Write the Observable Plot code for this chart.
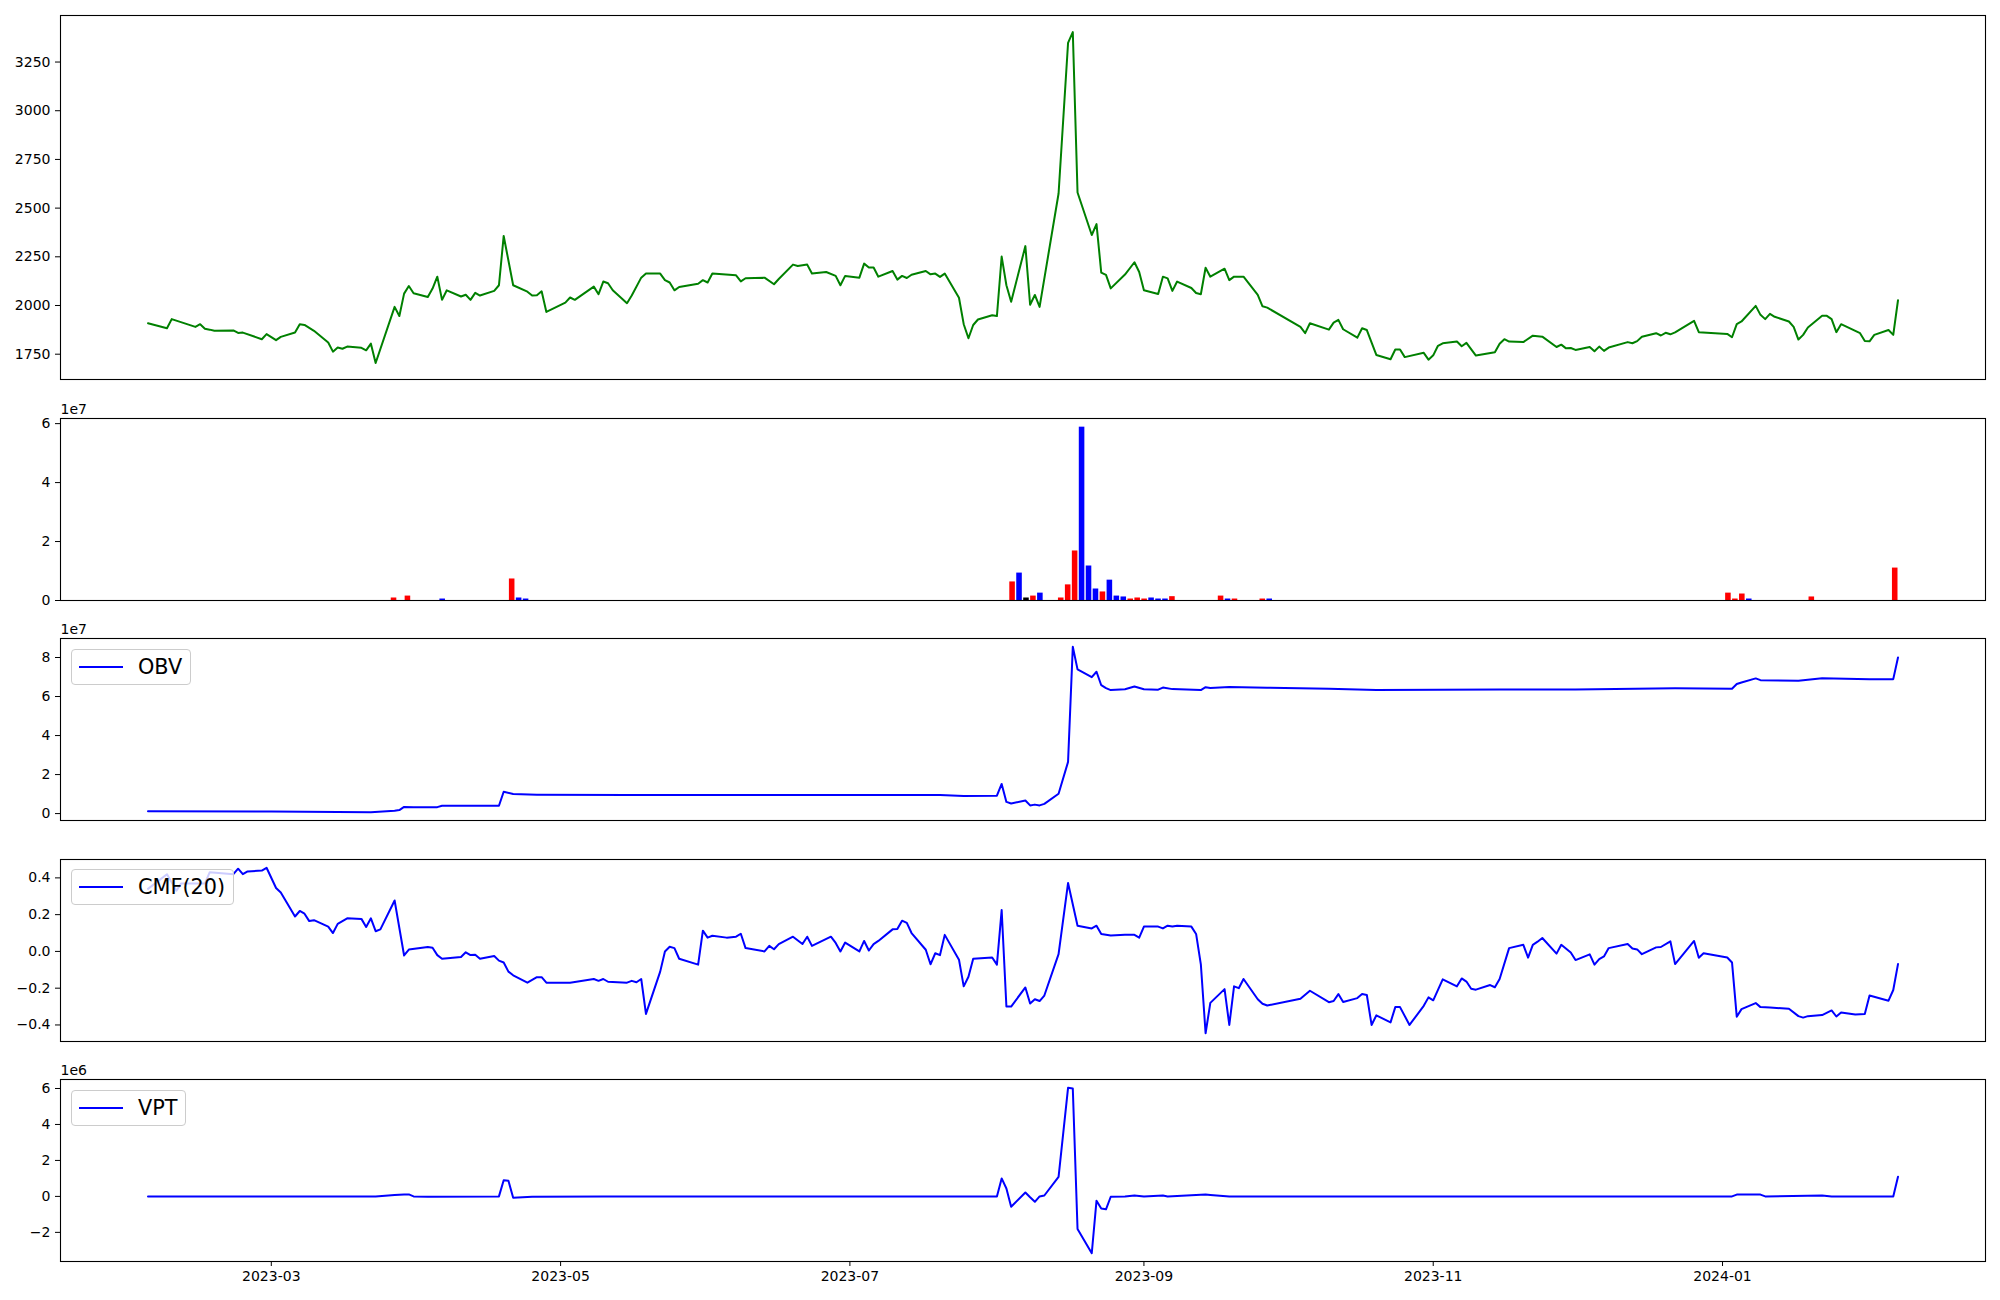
<!DOCTYPE html>
<html>
<head>
<meta charset="utf-8">
<script src="https://cdn.jsdelivr.net/npm/d3@7"></script>
<script src="https://cdn.jsdelivr.net/npm/@observablehq/plot@0.6"></script>
<style>
  html, body { margin: 0; padding: 0; background: #ffffff; }
  #fig { position: relative; width: 2000px; height: 1300px; background: #ffffff; font-family: "DejaVu Sans", sans-serif; overflow: hidden; }
  .panel { position: absolute; left: 0; }
  .legend { position: absolute; left: 71px; height: 34px; border: 1px solid #cccccc; border-radius: 4px;
            background: rgba(255,255,255,0.8); display: flex; align-items: center; padding-right: 8px;
            font-family: "DejaVu Sans", sans-serif; font-size: 20.8px; color: #000; }
  .legend svg { display: block; }
  .legend span { padding-left: 4px; }
</style>
</head>
<body>
<div id="fig"></div>
<script>
// ---------------- data ----------------
const priceSeries = [
["2023-02-03",1909],["2023-02-07",1883],["2023-02-08",1930],["2023-02-13",1890],["2023-02-14",1904],["2023-02-15",1881],["2023-02-16",1876],["2023-02-17",1870],["2023-02-21",1872],["2023-02-22",1859],
["2023-02-23",1861],["2023-02-27",1827],["2023-02-28",1853],["2023-03-02",1822],["2023-03-03",1839],["2023-03-06",1861],["2023-03-07",1904],["2023-03-08",1900],["2023-03-10",1870],["2023-03-13",1810],
["2023-03-14",1763],["2023-03-15",1784],["2023-03-16",1778],["2023-03-17",1789],["2023-03-20",1783],["2023-03-21",1770],["2023-03-22",1804],["2023-03-23",1705],["2023-03-27",1993],["2023-03-28",1946],
["2023-03-29",2061],["2023-03-30",2100],["2023-03-31",2063],["2023-04-03",2044],["2023-04-04",2087],["2023-04-05",2148],["2023-04-06",2029],["2023-04-07",2078],["2023-04-10",2046],["2023-04-11",2055],
["2023-04-12",2029],["2023-04-13",2065],["2023-04-14",2051],["2023-04-17",2075],["2023-04-18",2104],["2023-04-19",2357],["2023-04-21",2104],["2023-04-24",2071],["2023-04-25",2051],["2023-04-26",2053],
["2023-04-27",2073],["2023-04-28",1967],["2023-05-02",2015],["2023-05-03",2041],["2023-05-04",2029],["2023-05-08",2097],["2023-05-09",2058],["2023-05-10",2123],["2023-05-11",2114],["2023-05-12",2078],
["2023-05-15",2012],["2023-05-16",2051],["2023-05-18",2143],["2023-05-19",2164],["2023-05-22",2164],["2023-05-23",2130],["2023-05-24",2118],["2023-05-25",2078],["2023-05-26",2095],["2023-05-30",2112],
["2023-05-31",2130],["2023-06-01",2118],["2023-06-02",2164],["2023-06-07",2155],["2023-06-08",2124],["2023-06-09",2140],["2023-06-13",2143],["2023-06-15",2109],["2023-06-16",2136],["2023-06-19",2210],
["2023-06-20",2203],["2023-06-22",2210],["2023-06-23",2164],["2023-06-26",2172],["2023-06-28",2152],["2023-06-29",2104],["2023-06-30",2152],["2023-07-03",2143],["2023-07-04",2215],["2023-07-05",2195],
["2023-07-06",2195],["2023-07-07",2148],["2023-07-10",2177],["2023-07-11",2133],["2023-07-12",2152],["2023-07-13",2141],["2023-07-14",2158],["2023-07-17",2177],["2023-07-18",2160],["2023-07-19",2164],
["2023-07-20",2147],["2023-07-21",2164],["2023-07-24",2040],["2023-07-25",1904],["2023-07-26",1832],["2023-07-27",1900],["2023-07-28",1928],["2023-07-31",1950],["2023-08-01",1946],["2023-08-02",2251],
["2023-08-03",2104],["2023-08-04",2019],["2023-08-07",2305],["2023-08-08",2004],["2023-08-09",2054],["2023-08-10",1993],["2023-08-14",2575],["2023-08-16",3348],["2023-08-17",3404],["2023-08-18",2580],
["2023-08-21",2362],["2023-08-22",2418],["2023-08-23",2169],["2023-08-24",2157],["2023-08-25",2088],["2023-08-28",2159],["2023-08-30",2222],["2023-08-31",2172],["2023-09-01",2078],["2023-09-04",2059],
["2023-09-05",2148],["2023-09-06",2139],["2023-09-07",2075],["2023-09-08",2123],["2023-09-11",2090],["2023-09-12",2064],["2023-09-13",2058],["2023-09-14",2194],["2023-09-15",2148],["2023-09-18",2189],
["2023-09-19",2130],["2023-09-20",2148],["2023-09-22",2148],["2023-09-25",2054],["2023-09-26",1996],["2023-09-27",1989],["2023-10-04",1890],["2023-10-05",1858],["2023-10-06",1909],["2023-10-10",1876],
["2023-10-11",1912],["2023-10-12",1926],["2023-10-13",1878],["2023-10-16",1835],["2023-10-17",1883],["2023-10-18",1874],["2023-10-20",1746],["2023-10-23",1724],["2023-10-24",1774],["2023-10-25",1774],
["2023-10-26",1735],["2023-10-30",1757],["2023-10-31",1722],["2023-11-01",1744],["2023-11-02",1793],["2023-11-03",1806],["2023-11-06",1815],["2023-11-07",1791],["2023-11-08",1808],["2023-11-10",1743],
["2023-11-14",1760],["2023-11-15",1804],["2023-11-16",1827],["2023-11-17",1815],["2023-11-20",1812],["2023-11-22",1845],["2023-11-24",1840],["2023-11-27",1787],["2023-11-28",1799],["2023-11-29",1780],
["2023-11-30",1782],["2023-12-01",1772],["2023-12-04",1787],["2023-12-05",1765],["2023-12-06",1789],["2023-12-07",1767],["2023-12-08",1784],["2023-12-12",1812],["2023-12-13",1806],["2023-12-14",1817],
["2023-12-15",1840],["2023-12-18",1858],["2023-12-19",1846],["2023-12-20",1860],["2023-12-21",1852],["2023-12-22",1862],["2023-12-26",1921],["2023-12-27",1863],["2024-01-02",1854],["2024-01-03",1837],
["2024-01-04",1904],["2024-01-05",1918],["2024-01-08",1998],["2024-01-09",1952],["2024-01-10",1930],["2024-01-11",1957],["2024-01-12",1942],["2024-01-15",1918],["2024-01-16",1890],["2024-01-17",1825],
["2024-01-18",1849],["2024-01-19",1887],["2024-01-22",1947],["2024-01-23",1947],["2024-01-24",1930],["2024-01-25",1863],["2024-01-26",1904],["2024-01-30",1858],["2024-01-31",1818],["2024-02-01",1816],
["2024-02-02",1849],["2024-02-05",1874],["2024-02-06",1849],["2024-02-07",2027]
];

// volume bars: [bar index, volume, colour group]
const volumeCount = 252;
const volumeBars = [
[35,0.85e6,"red"],[37,1.5e6,"red"],[42,0.5e6,"blue"],[52,7.3e6,"red"],[53,0.85e6,"blue"],[54,0.5e6,"blue"],
[124,6.3e6,"red"],[125,9.3e6,"blue"],[126,0.85e6,"black"],[127,1.5e6,"red"],[128,2.5e6,"blue"],
[131,0.85e6,"red"],[132,5.3e6,"red"],[133,16.8e6,"red"],[134,58.8e6,"blue"],[135,11.7e6,"blue"],[136,3.9e6,"blue"],
[137,2.9e6,"red"],[138,6.9e6,"blue"],[139,1.5e6,"blue"],[140,1.2e6,"blue"],[141,0.5e6,"red"],[142,0.85e6,"red"],
[143,0.5e6,"red"],[144,0.85e6,"blue"],[145,0.5e6,"blue"],[146,0.5e6,"blue"],[147,1.3e6,"red"],
[154,1.5e6,"red"],[155,0.5e6,"blue"],[156,0.5e6,"red"],[160,0.5e6,"red"],[161,0.5e6,"blue"],
[227,2.5e6,"red"],[228,0.5e6,"red"],[229,2.2e6,"red"],[230,0.5e6,"blue"],[239,1.2e6,"red"],[251,11.0e6,"red"]
];

const obvSeries = [
["2023-02-03",0.12e7],["2023-03-01",0.11e7],["2023-03-22",0.07e7],["2023-03-27",0.14e7],["2023-03-28",0.18e7],["2023-03-29",0.34e7],["2023-03-31",0.33e7],["2023-04-05",0.33e7],["2023-04-06",0.40e7],["2023-04-18",0.40e7],
["2023-04-19",1.12e7],["2023-04-21",1.00e7],["2023-04-26",0.97e7],["2023-05-15",0.95e7],["2023-07-20",0.95e7],["2023-07-25",0.90e7],["2023-08-01",0.92e7],["2023-08-02",1.52e7],["2023-08-03",0.60e7],["2023-08-04",0.52e7],
["2023-08-07",0.67e7],["2023-08-08",0.42e7],["2023-08-09",0.46e7],["2023-08-10",0.42e7],["2023-08-11",0.50e7],["2023-08-14",1.02e7],["2023-08-16",2.65e7],["2023-08-17",8.55e7],["2023-08-18",7.39e7],["2023-08-21",6.99e7],
["2023-08-22",7.27e7],["2023-08-23",6.58e7],["2023-08-24",6.43e7],["2023-08-25",6.33e7],["2023-08-28",6.37e7],["2023-08-30",6.51e7],["2023-09-01",6.37e7],["2023-09-04",6.35e7],["2023-09-05",6.46e7],["2023-09-07",6.38e7],
["2023-09-13",6.33e7],["2023-09-14",6.48e7],["2023-09-15",6.44e7],["2023-09-19",6.49e7],["2023-09-27",6.45e7],["2023-10-10",6.40e7],["2023-10-20",6.34e7],["2023-11-15",6.36e7],["2023-12-01",6.36e7],["2023-12-22",6.42e7],
["2024-01-03",6.40e7],["2024-01-04",6.64e7],["2024-01-05",6.72e7],["2024-01-08",6.93e7],["2024-01-09",6.84e7],["2024-01-17",6.81e7],["2024-01-22",6.94e7],["2024-02-01",6.88e7],["2024-02-06",6.89e7],["2024-02-07",8.00e7]
];

const cmfSeries = [
["2023-02-03",0.34],["2023-02-07",0.42],["2023-02-09",0.33],["2023-02-10",0.37],["2023-02-15",0.37],["2023-02-16",0.43],["2023-02-21",0.42],["2023-02-22",0.45],["2023-02-23",0.42],["2023-02-24",0.435],
["2023-02-27",0.44],["2023-02-28",0.455],["2023-03-02",0.345],["2023-03-03",0.32],["2023-03-06",0.19],["2023-03-07",0.22],["2023-03-08",0.205],["2023-03-09",0.165],["2023-03-10",0.17],["2023-03-13",0.135],
["2023-03-14",0.10],["2023-03-15",0.15],["2023-03-17",0.18],["2023-03-20",0.177],["2023-03-21",0.133],["2023-03-22",0.18],["2023-03-23",0.11],["2023-03-24",0.12],["2023-03-27",0.277],["2023-03-29",-0.022],
["2023-03-30",0.01],["2023-04-03",0.024],["2023-04-04",0.02],["2023-04-05",-0.02],["2023-04-06",-0.04],["2023-04-10",-0.03],["2023-04-11",-0.005],["2023-04-12",-0.02],["2023-04-13",-0.018],["2023-04-14",-0.04],
["2023-04-17",-0.025],["2023-04-18",-0.05],["2023-04-19",-0.06],["2023-04-20",-0.11],["2023-04-21",-0.13],["2023-04-24",-0.17],["2023-04-26",-0.14],["2023-04-27",-0.14],["2023-04-28",-0.17],["2023-05-03",-0.17],
["2023-05-08",-0.15],["2023-05-09",-0.16],["2023-05-10",-0.15],["2023-05-11",-0.165],["2023-05-15",-0.17],["2023-05-16",-0.16],["2023-05-17",-0.168],["2023-05-18",-0.15],["2023-05-19",-0.34],["2023-05-22",-0.11],
["2023-05-23",0.0],["2023-05-24",0.025],["2023-05-25",0.018],["2023-05-26",-0.04],["2023-05-30",-0.072],["2023-05-31",0.113],["2023-06-01",0.075],["2023-06-02",0.085],["2023-06-05",0.075],["2023-06-07",0.08],
["2023-06-08",0.096],["2023-06-09",0.018],["2023-06-13",0.0],["2023-06-14",0.03],["2023-06-15",0.012],["2023-06-16",0.04],["2023-06-19",0.08],["2023-06-21",0.04],["2023-06-22",0.08],["2023-06-23",0.03],
["2023-06-27",0.08],["2023-06-28",0.046],["2023-06-29",0.0],["2023-06-30",0.048],["2023-07-03",0.0],["2023-07-04",0.057],["2023-07-05",0.005],["2023-07-06",0.04],["2023-07-07",0.057],["2023-07-10",0.12],
["2023-07-11",0.122],["2023-07-12",0.167],["2023-07-13",0.155],["2023-07-14",0.10],["2023-07-17",0.009],["2023-07-18",-0.07],["2023-07-19",-0.01],["2023-07-20",-0.02],["2023-07-21",0.09],["2023-07-24",-0.045],
["2023-07-25",-0.19],["2023-07-26",-0.138],["2023-07-27",-0.04],["2023-07-31",-0.033],["2023-08-01",-0.072],["2023-08-02",0.225],["2023-08-03",-0.30],["2023-08-04",-0.30],["2023-08-07",-0.196],["2023-08-08",-0.283],
["2023-08-09",-0.26],["2023-08-10",-0.27],["2023-08-11",-0.24],["2023-08-14",-0.015],["2023-08-16",0.372],["2023-08-18",0.14],["2023-08-21",0.125],["2023-08-22",0.14],["2023-08-23",0.095],["2023-08-25",0.087],
["2023-08-28",0.09],["2023-08-30",0.09],["2023-08-31",0.075],["2023-09-01",0.135],["2023-09-04",0.135],["2023-09-05",0.125],["2023-09-06",0.14],["2023-09-07",0.135],["2023-09-08",0.14],["2023-09-11",0.135],
["2023-09-12",0.095],["2023-09-13",-0.07],["2023-09-14",-0.445],["2023-09-15",-0.28],["2023-09-18",-0.205],["2023-09-19",-0.40],["2023-09-20",-0.19],["2023-09-21",-0.20],["2023-09-22",-0.15],["2023-09-25",-0.26],
["2023-09-26",-0.285],["2023-09-27",-0.294],["2023-10-04",-0.257],["2023-10-06",-0.214],["2023-10-10",-0.276],["2023-10-11",-0.27],["2023-10-12",-0.232],["2023-10-13",-0.275],["2023-10-16",-0.254],["2023-10-17",-0.232],
["2023-10-18",-0.237],["2023-10-19",-0.40],["2023-10-20",-0.348],["2023-10-23",-0.386],["2023-10-24",-0.303],["2023-10-25",-0.303],["2023-10-27",-0.40],["2023-10-30",-0.296],["2023-10-31",-0.25],["2023-11-01",-0.266],
["2023-11-03",-0.152],["2023-11-06",-0.19],["2023-11-07",-0.147],["2023-11-08",-0.164],["2023-11-09",-0.203],["2023-11-10",-0.208],["2023-11-13",-0.183],["2023-11-14",-0.195],["2023-11-15",-0.15],["2023-11-17",0.018],
["2023-11-20",0.036],["2023-11-21",-0.034],["2023-11-22",0.036],["2023-11-23",0.053],["2023-11-24",0.073],["2023-11-27",-0.012],["2023-11-28",0.036],["2023-11-30",-0.006],["2023-12-01",-0.047],["2023-12-04",-0.016],
["2023-12-05",-0.072],["2023-12-06",-0.042],["2023-12-07",-0.027],["2023-12-08",0.018],["2023-12-12",0.04],["2023-12-13",0.016],["2023-12-14",0.011],["2023-12-15",-0.015],["2023-12-18",0.022],["2023-12-19",0.024],
["2023-12-21",0.055],["2023-12-22",-0.069],["2023-12-26",0.057],["2023-12-27",-0.034],["2023-12-28",-0.01],["2024-01-02",-0.033],["2024-01-03",-0.06],["2024-01-04",-0.355],["2024-01-05",-0.314],["2024-01-08",-0.281],
["2024-01-09",-0.303],["2024-01-11",-0.305],["2024-01-15",-0.312],["2024-01-17",-0.352],["2024-01-18",-0.36],["2024-01-19",-0.352],["2024-01-22",-0.346],["2024-01-24",-0.321],["2024-01-25",-0.354],["2024-01-26",-0.332],
["2024-01-29",-0.343],["2024-01-31",-0.34],["2024-02-01",-0.24],["2024-02-05",-0.268],["2024-02-06",-0.21],["2024-02-07",-0.069]
];

const vptSeries = [
["2023-02-03",0],["2023-03-23",0],["2023-03-27",0.08e6],["2023-03-29",0.10e6],["2023-03-30",0.11e6],["2023-03-31",0],["2023-04-03",-0.02e6],["2023-04-18",0],["2023-04-19",0.90e6],["2023-04-20",0.87e6],
["2023-04-21",-0.08e6],["2023-04-25",-0.02e6],["2023-05-10",0],["2023-08-01",0],["2023-08-02",1.0e6],["2023-08-03",0.44e6],["2023-08-04",-0.58e6],["2023-08-07",0.22e6],["2023-08-08",-0.05e6],["2023-08-09",-0.30e6],
["2023-08-10",0],["2023-08-11",0.05e6],["2023-08-14",1.09e6],["2023-08-16",6.04e6],["2023-08-17",6.0e6],["2023-08-18",-1.81e6],["2023-08-21",-3.16e6],["2023-08-22",-0.24e6],["2023-08-23",-0.67e6],["2023-08-24",-0.72e6],
["2023-08-25",-0.02e6],["2023-08-28",0],["2023-08-30",0.05e6],["2023-09-01",0],["2023-09-05",0.05e6],["2023-09-06",0],["2023-09-14",0.10e6],["2023-09-15",0.08e6],["2023-09-19",0],["2024-01-03",0],
["2024-01-04",0.10e6],["2024-01-09",0.10e6],["2024-01-10",0],["2024-01-22",0.05e6],["2024-01-24",0],["2024-02-06",0],["2024-02-07",1.09e6]
];

// tick values and labels
const priceTicks = [1750, 2000, 2250, 2500, 2750, 3000, 3250];
const volumeTicks = [0, 2e7, 4e7, 6e7];
const obvTicks = [0, 2e7, 4e7, 6e7, 8e7];
const cmfTicks = [-0.4, -0.2, 0, 0.2, 0.4];
const vptTicks = [-2e6, 0, 2e6, 4e6, 6e6];
const monthTicks = ["2023-03-01", "2023-05-01", "2023-07-01", "2023-09-01", "2023-11-01", "2024-01-01"];
const legendLabels = {obv: "OBV", cmf: "CMF(20)", vpt: "VPT"};

// ---------------- build ----------------
const fig = document.getElementById("fig");
const parse = d3.utcParse("%Y-%m-%d");
const rows = s => s.map(([d, v]) => ({date: parse(d), value: v}));
const priceRows = rows(priceSeries), obvRows = rows(obvSeries), cmfRows = rows(cmfSeries), vptRows = rows(vptSeries);
const barRows = volumeBars.map(([i, v, c]) => ({i, value: v, group: c}));

// matplotlib-like 5% margins
const [t0, t1] = d3.extent(priceRows, d => d.date);
const tspan = t1 - t0;
const xDomain = [new Date(+t0 - 0.05 * tspan), new Date(+t1 + 0.05 * tspan)];
const pad = (arr) => { const [a, b] = d3.extent(arr, d => d.value); const r = b - a; return [a - 0.05 * r, b + 0.05 * r]; };
const volMax = d3.max(barRows, d => d.value);
const volXDomain = [-0.4 - 0.05 * (volumeCount - 0.2), volumeCount - 1 + 0.4 + 0.05 * (volumeCount - 0.2)];

const baseStyle = {fontFamily: "DejaVu Sans, sans-serif", fontSize: "14px", background: "transparent", color: "#000", overflow: "visible"};
const LINE_W = 2;
const frame = Plot.frame({stroke: "#000", strokeWidth: 1.1});

function addPanel(top, h, mt, mb, options) {
  const svg = Plot.plot({
    width: 2000, height: h + mt + mb,
    marginLeft: 60, marginRight: 15, marginTop: mt, marginBottom: mb,
    style: baseStyle,
    ...options
  });
  const wrap = document.createElement("div");
  wrap.className = "panel";
  wrap.style.top = (top - mt) + "px";
  wrap.appendChild(svg);
  fig.appendChild(wrap);
}
const yAxis = (domain, ticks, fmt) => ({domain, ticks, tickFormat: fmt, tickSize: 5, tickPadding: 5, label: null, nice: false, axis: "left"});
const offsetText = t => Plot.text([t], {text: d => d, frameAnchor: "top-left", dy: -14, textAnchor: "start", fontSize: 14, fill: "#000"});

// Panel 1: price
addPanel(15, 364, 10, 10, {
  x: {type: "utc", domain: xDomain, axis: null},
  y: yAxis(pad(priceRows), priceTicks, d3.format("d")),
  marks: [
    Plot.line(priceRows, {x: "date", y: "value", stroke: "#008000", strokeWidth: LINE_W}),
    frame
  ]
});

// Panel 2: volume bars (bar index axis)
addPanel(418, 182, 24, 10, {
  x: {type: "linear", domain: volXDomain, axis: null},
  y: yAxis([0, volMax * 1.05], volumeTicks, d => d3.format("d")(d / 1e7)),
  color: {type: "ordinal", domain: ["red", "blue", "black"], range: ["#ff0000", "#0000ff", "#000000"]},
  marks: [
    Plot.rectY(barRows, {x1: d => d.i - 0.4, x2: d => d.i + 0.4, y1: 0, y2: "value", fill: "group"}),
    frame,
    offsetText("1e7")
  ]
});

// Panel 3: OBV
addPanel(638, 182, 24, 10, {
  x: {type: "utc", domain: xDomain, axis: null},
  y: yAxis(pad(obvRows), obvTicks, d => d3.format("d")(d / 1e7)),
  marks: [
    Plot.line(obvRows, {x: "date", y: "value", stroke: "#0000ff", strokeWidth: LINE_W}),
    frame,
    offsetText("1e7")
  ]
});

// Panel 4: CMF
addPanel(859, 182, 10, 10, {
  x: {type: "utc", domain: xDomain, axis: null},
  y: yAxis(pad(cmfRows), cmfTicks, d3.format(".1f")),
  marks: [
    Plot.line(cmfRows, {x: "date", y: "value", stroke: "#0000ff", strokeWidth: LINE_W}),
    frame
  ]
});

// Panel 5: VPT with date axis
addPanel(1079, 182, 24, 39, {
  x: {type: "utc", domain: xDomain, axis: "bottom", ticks: monthTicks.map(parse), tickFormat: d3.utcFormat("%Y-%m"), tickSize: 5, tickPadding: 5, label: null},
  y: yAxis(pad(vptRows), vptTicks, d => d3.format("d")(d / 1e6)),
  marks: [
    Plot.line(vptRows, {x: "date", y: "value", stroke: "#0000ff", strokeWidth: LINE_W}),
    frame,
    offsetText("1e6")
  ]
});

// Legends (matplotlib-style boxes)
function addLegend(top, label) {
  const div = document.createElement("div");
  div.className = "legend";
  div.style.top = top + "px";
  div.innerHTML = `<svg width="62" height="20"><line x1="7" x2="51" y1="10" y2="10" stroke="#0000ff" stroke-width="2"/></svg><span>${label}</span>`;
  fig.appendChild(div);
}
addLegend(649, legendLabels.obv);
addLegend(869, legendLabels.cmf);
addLegend(1090, legendLabels.vpt);
</script>
</body>
</html>
